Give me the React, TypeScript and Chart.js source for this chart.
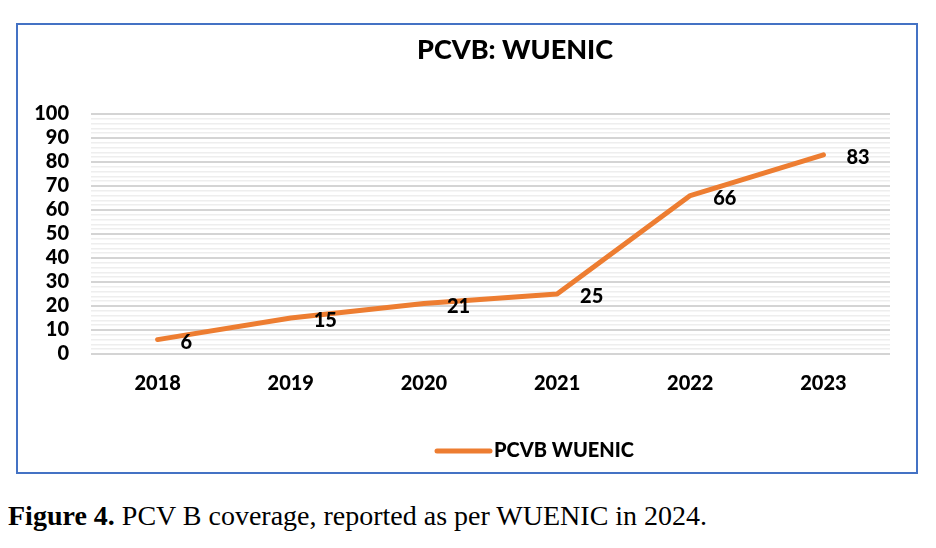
import React, { useEffect, useRef } from "react";
import { Chart, registerables } from "chart.js";

Chart.register(...registerables);

const chartTitle = "PCVB: WUENIC";
const seriesName = "PCVB WUENIC";
const years = ["2018", "2019", "2020", "2021", "2022", "2023"];
const coverage = [6, 15, 21, 25, 66, 83];
const yMin = 0;
const yMax = 100;
const yMinorStep = 2;
const yMajorStep = 10;

const FONT = "Lato, 'Open Sans', sans-serif";
const WEIGHT = "900";
const ORANGE = "#ED7D31";

const overlayPlugin = {
  id: "overlay",
  afterDatasetsDraw(chart: any) {
    const ctx = chart.ctx;
    const meta = chart.getDatasetMeta(0);
    const ds = chart.data.datasets[0];
    ctx.save();
    ctx.font = `${WEIGHT} 20px ${FONT}`;
    ctx.fillStyle = "#000";
    ctx.textAlign = "left";
    ctx.textBaseline = "alphabetic";
    meta.data.forEach((pt: any, i: number) => {
      ctx.fillText(String(ds.data[i]), pt.x + 23, pt.y + 9);
    });
    ctx.restore();
  },
  afterDraw(chart: any) {
    const ctx = chart.ctx;
    const area = chart.chartArea;
    ctx.save();
    // title
    ctx.font = `${WEIGHT} 27px ${FONT}`;
    ctx.fillStyle = "#000";
    ctx.textAlign = "center";
    ctx.textBaseline = "alphabetic";
    ctx.fillText(chartTitle, area.left + 424, 34);
    // legend
    const lx = area.left + 346;
    const ly = 426;
    ctx.strokeStyle = ORANGE;
    ctx.lineWidth = 5;
    ctx.lineCap = "round";
    ctx.beginPath();
    ctx.moveTo(lx, ly);
    ctx.lineTo(lx + 53, ly);
    ctx.stroke();
    ctx.font = `${WEIGHT} 20px ${FONT}`;
    ctx.textAlign = "left";
    ctx.fillText(seriesName, lx + 57, 432);
    ctx.restore();
  },
};

export default function App() {
  const ref = useRef<HTMLCanvasElement | null>(null);

  useEffect(() => {
    if (!ref.current) return;
    const chart = new Chart(ref.current, {
      type: "line",
      data: {
        labels: years,
        datasets: [
          {
            label: seriesName,
            data: coverage,
            borderColor: ORANGE,
            backgroundColor: ORANGE,
            borderWidth: 5,
            pointRadius: 0,
            pointHoverRadius: 0,
            tension: 0,
            borderCapStyle: "round",
            borderJoinStyle: "round",
            clip: false as any,
          },
        ],
      },
      options: {
        animation: false,
        responsive: true,
        maintainAspectRatio: false,
        layout: { padding: { top: 89, right: 26, left: 0, bottom: 0 } },
        plugins: {
          legend: { display: false },
          title: { display: false },
          tooltip: { enabled: false },
        },
        scales: {
          x: {
            type: "category",
            offset: true,
            grid: { display: false, drawTicks: false },
            border: { display: false },
            ticks: {
              color: "#000",
              font: { family: FONT, size: 20, weight: WEIGHT as any },
              padding: 18,
              maxRotation: 0,
            },
            afterFit: (scale: any) => {
              scale.height = 118;
            },
          },
          y: {
            min: yMin,
            max: yMax,
            grid: {
              drawTicks: false,
              color: (c: any) =>
                c.tick && c.tick.value % yMajorStep === 0 ? "#d4d4d4" : "#eeeeee",
              lineWidth: (c: any) =>
                c.tick && c.tick.value % yMajorStep === 0 ? 2 : 1.5,
            },
            border: { display: false },
            ticks: {
              stepSize: yMinorStep,
              autoSkip: false,
              color: "#000",
              font: { family: FONT, size: 20, weight: WEIGHT as any },
              padding: 22,
              callback: (v: any) => (Number(v) % yMajorStep === 0 ? String(v) : ""),
            },
            afterFit: (scale: any) => {
              scale.width = 73;
            },
          },
        },
      },
      plugins: [overlayPlugin],
    });
    return () => chart.destroy();
  }, []);

  return (
    <div style={{ position: "absolute", left: 0, top: 0, width: 936, height: 548, background: "#fff" }}>
      <div
        style={{
          position: "absolute",
          left: 16,
          top: 23,
          width: 902,
          height: 451,
          border: "2px solid #4472C4",
          boxSizing: "border-box",
        }}
      >
        <div style={{ position: "relative", width: 898, height: 447 }}>
          <canvas ref={ref} />
        </div>
      </div>
      <div
        style={{
          position: "absolute",
          left: 8,
          top: 502,
          fontFamily: "'Liberation Serif', serif",
          fontSize: 28,
          lineHeight: 1,
          whiteSpace: "nowrap",
          color: "#000",
        }}
      >
        <b>Figure 4.</b> PCV B coverage, reported as per WUENIC in 2024.
      </div>
    </div>
  );
}
